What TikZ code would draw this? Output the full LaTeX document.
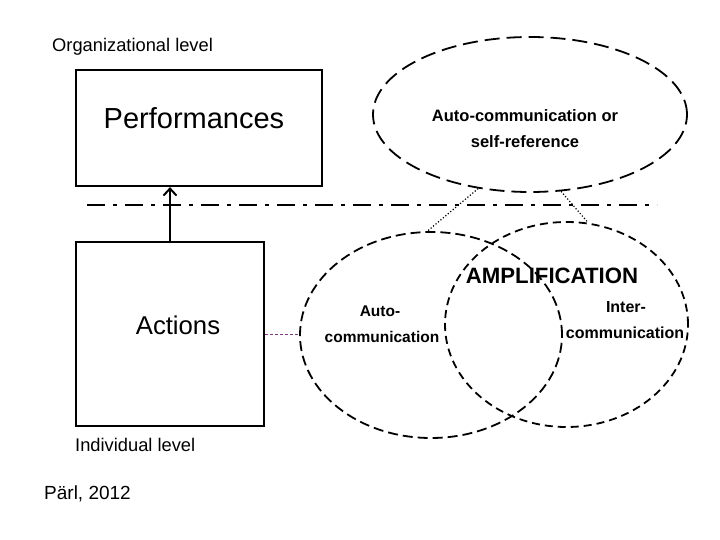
\documentclass[tikz,border=0pt]{standalone}
\usepackage{fontspec}
\setmainfont{Liberation Sans}
\usetikzlibrary{shapes.geometric,arrows.meta}
\tikzset{
  box/.style={draw, line width=2.2pt, rectangle, inner sep=0pt},
  bubble/.style={draw, line width=1.8pt, ellipse, inner sep=0pt},
  label/.style={inner sep=0pt, anchor=center},
  link/.style={line width=1.2pt, dotted},
  levelline/.style={line width=2.6pt, dash pattern=on 18pt off 8pt on 4pt off 8pt},
}
\begin{document}
\begin{tikzpicture}[x=1pt,y=-1pt]
\useasboundingbox (0,0) rectangle (720,540);
% boxes
\node[box, minimum width=246pt, minimum height=116pt] (perf) at (199,128) {};
\node[box, minimum width=188pt, minimum height=184pt] (act) at (170,334) {};
\node[label, font=\fontsize{29}{32}\selectfont] (perft) at (194,118) {Performances};
\node[label, font=\fontsize{25.7}{28}\selectfont] (actt) at (178,325) {Actions};
\node[label, font=\fontsize{18.3}{20}\selectfont, anchor=west] (org) at (52,47) {Organizational level};
\node[label, font=\fontsize{18.3}{20}\selectfont, anchor=west] (ind) at (75,445) {Individual level};
\node[label, font=\fontsize{19}{21}\selectfont, anchor=west] (src) at (44,494) {Pärl, 2012};
% arrow
\draw[line width=2pt, -{Straight Barb[length=7pt,width=13pt]}] (act.north) -- (act.north |- perf.south);
% level separator
\coordinate (ls) at (87,205);
\coordinate (le) at (657,205);
\draw[levelline] (ls) -- (le);
% ellipses
\node[bubble, dash pattern=on 15pt off 7pt, minimum width=314pt, minimum height=155pt] (self) at (530,114.5) {};
\node[bubble, dash pattern=on 10pt off 5pt, minimum width=262pt, minimum height=206pt] (auto) at (431,335) {};
\node[bubble, dash pattern=on 8pt off 5pt, minimum width=243pt, minimum height=205pt] (inter) at (566.5,324.5) {};
% ellipse texts
\node[label, font=\bfseries\fontsize{16.5}{18}\selectfont] (st1) at (525,116) {Auto-communication or};
\node[label, font=\bfseries\fontsize{16.5}{18}\selectfont] (st2) at (525,142) {self-reference};
\node[label, font=\bfseries\fontsize{22.2}{24}\selectfont] (amp) at (552,276) {AMPLIFICATION};
\node[label, font=\bfseries\fontsize{15.5}{18}\selectfont] (a1) at (380,311) {Auto-};
\node[label, font=\bfseries\fontsize{15.5}{18}\selectfont] (a2) at (382,337) {communication};
\node[label, font=\bfseries\fontsize{16}{18}\selectfont] (i1) at (626,307) {Inter-};
\node[label, font=\bfseries\fontsize{16}{18}\selectfont] (i2) at (625,333) {communication};
% connectors
\draw[link] (self.235.6) -- (auto.92);
\draw[link] (self.292.2) -- (inter.78);
\draw[line width=1pt, color={rgb,255:red,128;green,60;blue,128}, dash pattern=on 3pt off 2pt] (act.east) -- (act.east -| auto.west);
\end{tikzpicture}
\end{document}
